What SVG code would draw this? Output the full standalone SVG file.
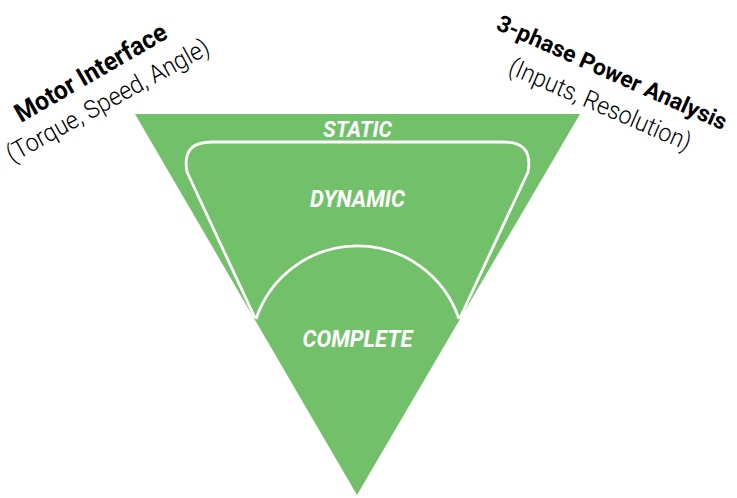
<svg xmlns="http://www.w3.org/2000/svg" width="737" height="498" viewBox="0 0 737 498">
  <style>
    .zone { fill: #72c16a; }
    .outline { fill: none; stroke: #ffffff; stroke-width: 2.8; stroke-linejoin: round; }
    .inner { font-family: Roboto, "Liberation Sans", sans-serif; font-weight: 700; font-style: italic; fill: #ffffff; text-anchor: middle; }
    .head { font-family: Roboto, "Liberation Sans", sans-serif; font-weight: 700; fill: #000000; }
    .sub { font-family: Roboto, "Liberation Sans", sans-serif; font-weight: 300; fill: #000000; }
  </style>
  <rect width="737" height="498" fill="#ffffff"/>
  <g id="static">
    <polygon class="zone" points="135,114 580,114 357,495"/>
    <text class="inner" x="357.5" y="137" font-size="21.5" textLength="69" lengthAdjust="spacingAndGlyphs">STATIC</text>
  </g>
  <g id="dynamic">
    <path class="outline" d="M255,318 L187,172 C183,150 193,142 212,142 L503,142 C522,142 532,150 528,172 L460,318"/>
    <text class="inner" x="357.5" y="206.5" font-size="23" textLength="95" lengthAdjust="spacingAndGlyphs">DYNAMIC</text>
  </g>
  <g id="complete">
    <path class="outline" d="M256,319 A107 107 0 0 1 459,319"/>
    <text class="inner" x="357.5" y="346.5" font-size="23" textLength="110" lengthAdjust="spacingAndGlyphs">COMPLETE</text>
  </g>
  <g id="motor-interface">
    <text class="head" transform="translate(21,123) rotate(-30)" font-size="26" textLength="171" lengthAdjust="spacingAndGlyphs">Motor Interface</text>
    <text class="sub" transform="translate(12,163) rotate(-29)" font-size="25" textLength="228" lengthAdjust="spacingAndGlyphs">(Torque, Speed, Angle)</text>
  </g>
  <g id="power-analysis">
    <text class="head" transform="translate(495,29) rotate(24)" font-size="23">3-phase Power Analysis</text>
    <text class="sub" transform="translate(507,73) rotate(23.5)" font-size="25" textLength="196" lengthAdjust="spacingAndGlyphs">(Inputs, Resolution)</text>
  </g>
  <g id="connectors"/>
</svg>
